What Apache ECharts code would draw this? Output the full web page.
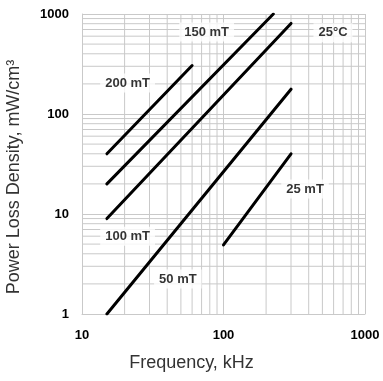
<!DOCTYPE html>
<html><head><meta charset="utf-8">
<script src="https://cdn.jsdelivr.net/npm/echarts@6/dist/echarts.min.js"></script>
<style>html,body{margin:0;padding:0;background:#fff}#c{width:383px;height:381px}</style>
</head><body><div id="c"></div>
<script>
// Series (frequency kHz, power loss mW/cm3)
const names = ['200 mT','150 mT','100 mT','50 mT','25 mT'];
const freq200 = [15, 60];   const loss200 = [40, 305];
const freq150 = [15, 225];  const loss150 = [20, 1000];
const freq100 = [15, 300];  const loss100 = [9, 805];
const freq50  = [15, 300];  const loss50  = [1, 177];
const freq25  = [100, 300]; const loss25  = [4.9, 40];
// annotations
const labelText = ['200 mT','150 mT','25°C','100 mT','50 mT','25 mT'];
const labelX = [21, 76, 594, 21, 47.6, 377];
const labelY = [204, 660, 650, 6.0, 2.24, 17.8];
// axis ticks
const xMajor = [10, 100, 1000];
const yMajor = [1, 10, 100, 1000];
const minorMult = [2,3,4,5,6,7,8,9];

const xMinor = []; xMajor.slice(0,-1).forEach(d => minorMult.forEach(m => xMinor.push(d*m)));
const yMinor = []; yMajor.slice(0,-1).forEach(d => minorMult.forEach(m => yMinor.push(d*m)));

const pairs = (xs, ys) => xs.map((x,i)=>[x, ys[i]]);
const lineData = [pairs(freq200,loss200), pairs(freq150,loss150), pairs(freq100,loss100), pairs(freq50,loss50), pairs(freq25,loss25)];

const font = '"Liberation Sans", Arial, sans-serif';
const gridColor = '#c9c9c9';
const chart = echarts.init(document.getElementById('c'));
const series = [];
// minor grid lines as plain line series through the axes
xMinor.forEach(v => series.push({type:'line', data:[[v,1],[v,1000]], symbol:'none', silent:true, z:1,
  lineStyle:{color:gridColor, width:1, type:'solid'}}));
yMinor.forEach(v => series.push({type:'line', data:[[10,v],[1000,v]], symbol:'none', silent:true, z:1,
  lineStyle:{color:gridColor, width:1, type:'solid'}}));
lineData.forEach((d,i)=>series.push({
  name:names[i], type:'line', data:d, symbol:'none', z:3, silent:true,
  lineStyle:{color:'#000', width:3, type:'solid', cap:'round'}
}));
series.push({
  type:'scatter', symbolSize:0, z:5, silent:true,
  data: labelText.map((t,i)=>({value:[labelX[i], labelY[i]], name:t})),
  label:{show:true, position:'inside', formatter:p=>p.name, color:'#000',
    fontWeight:'bold', fontSize:13, fontFamily:font, backgroundColor:'#fff', padding:[3,5]}
});
chart.setOption({
  animation:false,
  grid:{left:82, right:18, top:14, bottom:67},
  xAxis:{type:'log', logBase:10, min:10, max:1000,
    axisLine:{show:true, lineStyle:{color:gridColor}}, axisTick:{show:false},
    axisLabel:{color:'#000', fontWeight:'bold', fontSize:13, fontFamily:font, margin:15, formatter:v=>String(Math.round(v))},
    splitLine:{show:true, lineStyle:{color:gridColor, width:1}}},
  yAxis:{type:'log', logBase:10, min:1, max:1000,
    axisLine:{show:true, lineStyle:{color:gridColor}}, axisTick:{show:false},
    axisLabel:{color:'#000', fontWeight:'bold', fontSize:13, fontFamily:font, margin:13, formatter:v=>String(Math.round(v))},
    splitLine:{show:true, lineStyle:{color:gridColor, width:1}}},
  graphic:[
    {type:'text', left:'center', x:0, top:354, style:{text:'Frequency, kHz', font:'18px '+font, fill:'#333'}},
    {type:'text', x:5, y:177, rotation:Math.PI/2, originX:0, originY:0,
      style:{text:'Power Loss Density, mW/cm³', font:'18px '+font, fill:'#333', align:'center', verticalAlign:'top'}}
  ],
  series:series
});
</script></body></html>
